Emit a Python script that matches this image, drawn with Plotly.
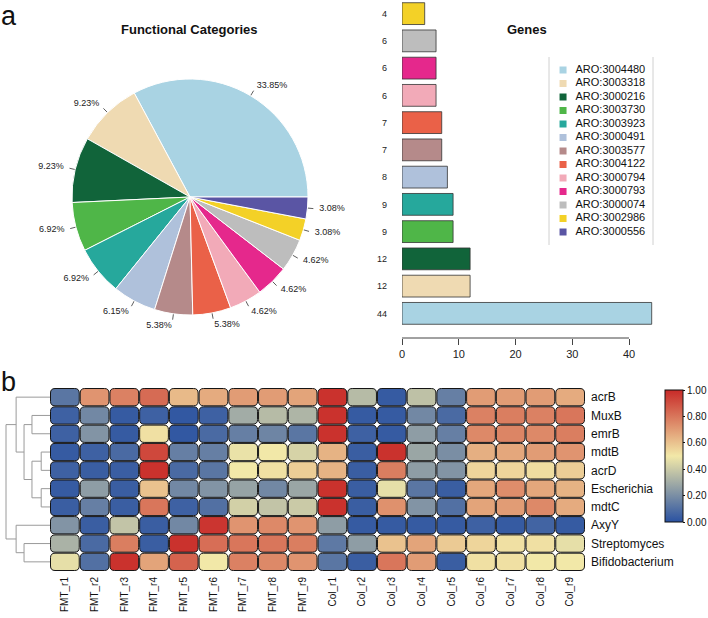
import math
import plotly.graph_objects as go
from plotly.colors import sample_colorscale

W, H = 708, 618
FONT = "Liberation Sans, Arial, sans-serif"


def fx(p):
    return p / W


def fy(p):
    return 1 - p / H


# ---------------- data ----------------
genes = ["ARO:3004480", "ARO:3003318", "ARO:3000216", "ARO:3003730", "ARO:3003923",
         "ARO:3000491", "ARO:3003577", "ARO:3004122", "ARO:3000794", "ARO:3000793",
         "ARO:3000074", "ARO:3002986", "ARO:3000556"]
gene_counts = [44, 12, 12, 9, 9, 8, 7, 7, 6, 6, 6, 4, 4]
pie_labels = ["33.85%", "9.23%", "9.23%", "6.92%", "6.92%", "6.15%", "5.38%",
              "5.38%", "4.62%", "4.62%", "4.62%", "3.08%", "3.08%"]
gene_colors = ["#A9D3E3", "#EFDAB2", "#11643A", "#4FB648", "#26A89C", "#AFC1DB",
               "#B58A8A", "#EA6148", "#F2AAB8", "#E5288C", "#BDBDBD", "#F3D127",
               "#5A55A4"]

bar_genes = genes[:12]
bar_counts = gene_counts[:12]
bar_ticks = [0, 10, 20, 30, 40]

hm_rows = ["acrB", "MuxB", "emrB", "mdtB", "acrD", "Escherichia", "mdtC", "AxyY",
           "Streptomyces", "Bifidobacterium"]
hm_cols = ["FMT_r1", "FMT_r2", "FMT_r3", "FMT_r4", "FMT_r5", "FMT_r6", "FMT_r7",
           "FMT_r8", "FMT_r9", "Col_r1", "Col_r2", "Col_r3", "Col_r4", "Col_r5",
           "Col_r6", "Col_r7", "Col_r8", "Col_r9"]
hm_values = [
    [0.12, 0.72, 0.77, 0.83, 0.62, 0.66, 0.70, 0.70, 0.68, 0.98, 0.35, 0.03, 0.37, 0.15, 0.70, 0.70, 0.70, 0.66],
    [0.05, 0.18, 0.03, 0.05, 0.02, 0.05, 0.30, 0.35, 0.33, 0.98, 0.03, 0.03, 0.18, 0.08, 0.77, 0.78, 0.77, 0.80],
    [0.05, 0.22, 0.03, 0.52, 0.02, 0.08, 0.15, 0.17, 0.12, 0.98, 0.05, 0.03, 0.25, 0.15, 0.75, 0.76, 0.75, 0.78],
    [0.03, 0.05, 0.08, 0.92, 0.15, 0.15, 0.48, 0.50, 0.43, 0.64, 0.04, 0.98, 0.28, 0.20, 0.65, 0.67, 0.70, 0.72],
    [0.05, 0.04, 0.04, 0.98, 0.08, 0.12, 0.50, 0.52, 0.57, 0.64, 0.04, 0.78, 0.25, 0.22, 0.55, 0.55, 0.53, 0.57],
    [0.03, 0.25, 0.04, 0.60, 0.18, 0.22, 0.27, 0.18, 0.28, 0.98, 0.04, 0.47, 0.12, 0.04, 0.67, 0.74, 0.67, 0.64],
    [0.04, 0.15, 0.04, 0.80, 0.05, 0.10, 0.42, 0.38, 0.40, 0.98, 0.04, 0.73, 0.22, 0.10, 0.68, 0.70, 0.75, 0.66],
    [0.22, 0.04, 0.38, 0.04, 0.18, 0.97, 0.72, 0.75, 0.72, 0.25, 0.03, 0.03, 0.03, 0.03, 0.05, 0.03, 0.06, 0.03],
    [0.32, 0.08, 0.78, 0.04, 0.98, 0.82, 0.80, 0.80, 0.78, 0.13, 0.25, 0.60, 0.68, 0.58, 0.55, 0.52, 0.52, 0.47],
    [0.47, 0.10, 0.98, 0.68, 0.85, 0.50, 0.77, 0.75, 0.72, 0.12, 0.04, 0.80, 0.70, 0.04, 0.52, 0.52, 0.50, 0.50],
]
cbar_ticks = [0.0, 0.2, 0.4, 0.6, 0.8, 1.0]
cbar_text = ["0.00", "0.20", "0.40", "0.60", "0.80", "1.00"]

# row dendrogram (scipy-like linkage: left, right, height), leaves = row indices
linkage = [
    [3, 4, 0.20],
    [5, 6, 0.20],
    [1, 2, 0.41],
    [10, 11, 0.41],
    [12, 13, 0.59],
    [0, 14, 0.77],
    [8, 9, 0.59],
    [7, 16, 0.77],
    [15, 17, 1.00],
]

colorscale = [[0.0, "rgb(42,82,162)"], [0.5, "rgb(242,232,168)"], [1.0, "rgb(200,42,40)"]]

fig = go.Figure()

# ---------------- pie ----------------
pcx, pcy, pr = 190, 197, 118
total = sum(gene_counts)
fig.add_trace(go.Pie(
    values=gene_counts, labels=genes, sort=False, direction="counterclockwise",
    rotation=90 - 360 * gene_counts[0] / total, textinfo="none", showlegend=False,
    marker=dict(colors=gene_colors, line=dict(color="white", width=1)),
    domain=dict(x=[fx(pcx - pr), fx(pcx + pr)], y=[fy(pcy + pr), fy(pcy - pr)]),
))

cum = 0
lx, ly, tx, ty, tpos = [], [], [], [], []
for v in gene_counts:
    mid = 2 * math.pi * (cum + v / 2) / total
    cum += v
    c, s = math.cos(mid), math.sin(mid)
    lx += [c * 1.0, c * 1.05, None]
    ly += [s * 1.0, s * 1.05, None]
    tx.append(c * 1.1)
    ty.append(s * 1.1)
    tpos.append("middle left" if c < 0 else "middle right")
ext = 1.4
fig.add_trace(go.Scatter(x=lx, y=ly, mode="lines", line=dict(color="#333", width=0.8),
                         xaxis="x4", yaxis="y4", showlegend=False, hoverinfo="skip"))
fig.add_trace(go.Scatter(x=tx, y=ty, mode="text", text=pie_labels, textposition=tpos,
                         cliponaxis=False,
                         textfont=dict(size=9, color="#222", family=FONT),
                         xaxis="x4", yaxis="y4", showlegend=False, hoverinfo="skip"))

# ---------------- bar ----------------
unit = 5.675
bar_left = 402
bar_max = 44.5
fig.add_trace(go.Bar(
    x=bar_counts, y=bar_genes, orientation="h", showlegend=False,
    marker=dict(color=gene_colors[:12], line=dict(color="#333", width=0.8)),
    xaxis="x", yaxis="y",
))

# legend (manual, compact like R)
fig.add_trace(go.Scatter(x=[0.135] * len(genes), y=list(range(len(genes))), mode="markers",
                         marker=dict(symbol="square", size=7, color=gene_colors),
                         xaxis="x5", yaxis="y5", showlegend=False, hoverinfo="skip"))
fig.add_trace(go.Scatter(x=[0.255] * len(genes), y=list(range(len(genes))), mode="text",
                         text=genes, textposition="middle right", cliponaxis=False,
                         textfont=dict(size=11, color="#111", family=FONT),
                         xaxis="x5", yaxis="y5", showlegend=False, hoverinfo="skip"))

# ---------------- heatmap ----------------
nr, nc = len(hm_rows), len(hm_cols)
fig.add_trace(go.Heatmap(
    z=hm_values, x=list(range(nc)), y=list(range(nr)), zmin=0, zmax=1,
    colorscale=colorscale, opacity=0, xaxis="x2", yaxis="y2", hoverinfo="skip",
    colorbar=dict(x=fx(665), xanchor="left", xpad=0, ypad=0, thickness=18,
                  len=132, lenmode="pixels", y=fy(456), yanchor="middle",
                  outlinewidth=1, outlinecolor="#111", tickvals=cbar_ticks,
                  ticktext=cbar_text, ticks="outside", ticklen=2, tickcolor="#111",
                  tickfont=dict(size=10, color="#111", family=FONT)),
))

shapes = []
cw, ch = 29.72, 18.3  # px per cell
rx, ry = 4.5 / cw, 4.5 / ch
dx, dy = 0.5 / cw, 0.5 / ch
flat = [v for row in hm_values for v in row]
cols_rgb = sample_colorscale(colorscale, flat)
k = 0
for i in range(nr):
    for j in range(nc):
        x0, x1 = j - 0.5 + dx, j + 0.5 - dx
        y0, y1 = i - 0.5 + dy, i + 0.5 - dy
        path = (f"M{x0+rx},{y0} L{x1-rx},{y0} Q{x1},{y0} {x1},{y0+ry} "
                f"L{x1},{y1-ry} Q{x1},{y1} {x1-rx},{y1} L{x0+rx},{y1} "
                f"Q{x0},{y1} {x0},{y1-ry} L{x0},{y0+ry} Q{x0},{y0} {x0+rx},{y0} Z")
        shapes.append(dict(type="path", path=path, xref="x2", yref="y2",
                           fillcolor=cols_rgb[k], line=dict(color="#151515", width=1)))
        k += 1

# dendrogram
pos = {i: float(i) for i in range(nr)}
hgt = {i: 0.0 for i in range(nr)}
dxs, dys = [], []
for kk, (a, b, h) in enumerate(linkage):
    node = nr + kk
    pos[node] = (pos[a] + pos[b]) / 2
    hgt[node] = h
    dxs += [hgt[a], h, h, hgt[b], None]
    dys += [pos[a], pos[a], pos[b], pos[b], None]
fig.add_trace(go.Scatter(x=dxs, y=dys, mode="lines", line=dict(color="#9a9a9a", width=1),
                         xaxis="x3", yaxis="y3", showlegend=False, hoverinfo="skip"))

# bar axis line from 0 to 40 (R style)
shapes.append(dict(type="line", xref="x", yref="paper", x0=bar_ticks[0], x1=bar_ticks[-1],
                   y0=fy(338), y1=fy(338), line=dict(color="#444", width=1)))
# legend box sides
for xv in (0, 1):
    shapes.append(dict(type="line", xref="x5 domain", yref="y5 domain", x0=xv, x1=xv,
                       y0=0, y1=1, line=dict(color="#d0d0d0", width=1)))

annotations = [
    dict(text="a", x=fx(0), y=fy(0), xref="paper", yref="paper", xanchor="left",
         yanchor="top", showarrow=False, borderpad=0,
         font=dict(size=27, color="#111", family=FONT)),
    dict(text="b", x=fx(0), y=fy(366), xref="paper", yref="paper", xanchor="left",
         yanchor="top", showarrow=False, borderpad=0,
         font=dict(size=27, color="#111", family=FONT)),
    dict(text="<b>Functional Categories</b>", x=fx(189), y=fy(29), xref="paper", yref="paper",
         xanchor="center", yanchor="middle", showarrow=False,
         font=dict(size=13, color="#111", family=FONT)),
    dict(text="<b>Genes</b>", x=fx(527), y=fy(29), xref="paper", yref="paper",
         xanchor="center", yanchor="middle", showarrow=False,
         font=dict(size=13, color="#111", family=FONT)),
]

noax = dict(visible=False, showgrid=False, zeroline=False, fixedrange=True)
fig.update_layout(
    width=W, height=H, margin=dict(l=0, r=0, t=0, b=0, pad=0, autoexpand=False),
    paper_bgcolor="white", plot_bgcolor="white", showlegend=False,
    font=dict(family=FONT, color="#111"),
    xaxis=dict(domain=[fx(bar_left), fx(bar_left + bar_max * unit)], range=[0, bar_max],
               anchor="free", position=fy(338), tickvals=bar_ticks, ticks="outside",
               ticklen=6, tickcolor="#444", showline=False, showgrid=False, zeroline=False,
               tickfont=dict(size=11, color="#222"), automargin=False),
    yaxis=dict(domain=[fy(327), 1], range=[-0.5, 11.5], tickvals=bar_genes,
               ticktext=[str(c) for c in bar_counts], ticks="", showline=False,
               showgrid=False, zeroline=False, ticklabelstandoff=14, automargin=False,
               tickfont=dict(size=9, color="#222"), anchor="x", type="category"),
    xaxis2=dict(domain=[fx(50), fx(585)], range=[-0.5, nc - 0.5], tickvals=list(range(nc)),
                ticktext=hm_cols, tickangle=-90, ticks="", showgrid=False, zeroline=False,
                showline=False, ticklabelstandoff=3, tickfont=dict(size=10, color="#111"),
                anchor="y2", automargin=False),
    yaxis2=dict(domain=[fy(571), fy(388)], range=[nr - 0.5, -0.5], tickvals=list(range(nr)),
                ticktext=hm_rows, side="right", ticks="", showgrid=False, zeroline=False,
                showline=False, ticklabelstandoff=5, tickfont=dict(size=12, color="#111"),
                anchor="x2", automargin=False),
    xaxis3=dict(domain=[fx(5), fx(50)], range=[45 / 44, 0], anchor="y3", **noax),
    yaxis3=dict(domain=[fy(571), fy(388)], range=[nr - 0.5, -0.5], anchor="x3", **noax),
    xaxis4=dict(domain=[fx(pcx - ext * pr), fx(pcx + ext * pr)], range=[-ext, ext],
                anchor="y4", **noax),
    yaxis4=dict(domain=[fy(pcy + ext * pr), fy(pcy - ext * pr)], range=[-ext, ext],
                anchor="x4", **noax),
    xaxis5=dict(domain=[fx(549), fx(653)], range=[0, 1], anchor="y5", **noax),
    yaxis5=dict(domain=[fy(245), fy(57)], range=[(245 - 70) / 13.5, (57 - 70) / 13.5],
                anchor="x5", **noax),
    shapes=shapes, annotations=annotations,
)

fig.write_html("out.html", config={"displayModeBar": False},
               post_script="document.body.style.margin='0';document.body.style.overflow='hidden';")
